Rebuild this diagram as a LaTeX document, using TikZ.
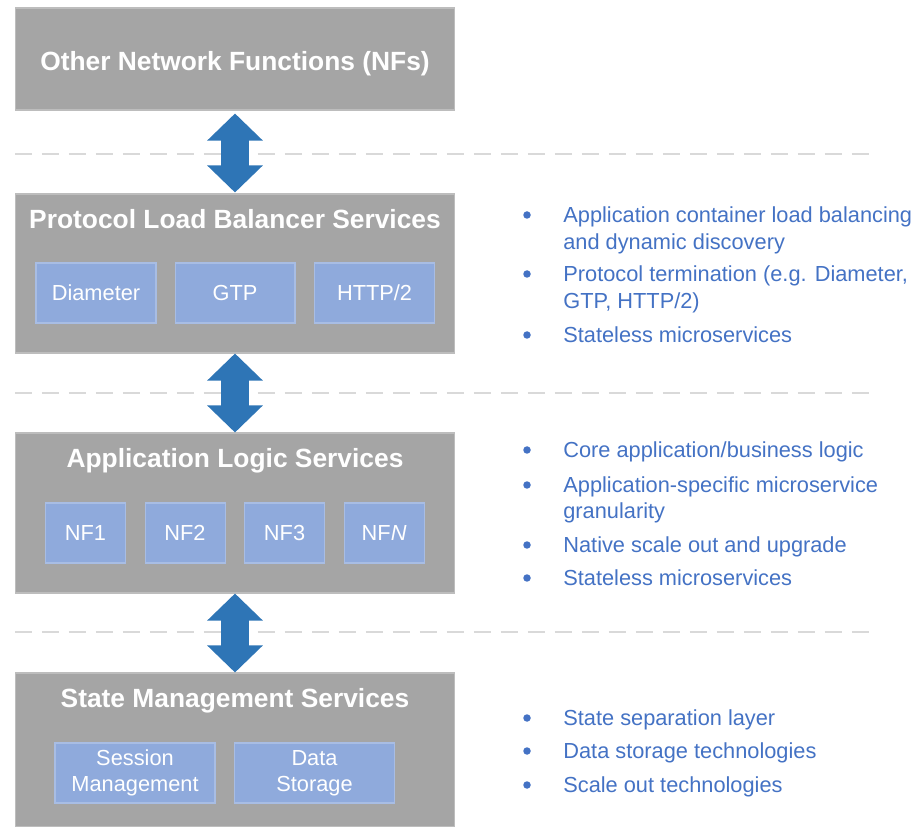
\documentclass[tikz,border=0pt]{standalone}
\usepackage{fontspec}
\setmainfont{Liberation Sans}
\usetikzlibrary{arrows.meta,positioning}
\definecolor{layergray}{HTML}{A5A5A5}
\definecolor{layeredge}{HTML}{BDBDBD}
\definecolor{cellblue}{HTML}{8FAADC}
\definecolor{celledge}{HTML}{A8BDE4}
\definecolor{arrowblue}{HTML}{2E75B6}
\definecolor{textblue}{HTML}{4472C4}
\definecolor{dashgray}{HTML}{D9D9D9}

\tikzset{
    layer/.style={rectangle, fill=layergray, draw=layeredge, line width=0.6pt, minimum width=8.8cm, inner sep=0pt},
    title/.style={text=white, font=\fontsize{15}{18}\selectfont\bfseries, text height=10.7pt, text depth=0pt, inner sep=0pt},
    cell/.style={rectangle, fill=cellblue, draw=celledge, line width=0.6pt, minimum height=1.2cm, text=white, font=\fontsize{12.4}{15}\selectfont, align=center, inner sep=0pt},
    link/.style={arrowblue, line width=0.58cm, {Triangle[width=1.08cm,length=0.54cm]}-{Triangle[width=1.08cm,length=0.54cm]}},
    sep/.style={dashgray, line width=1.5pt, dash pattern=on 0.34cm off 0.2cm},
    point/.style={anchor=west, text=textblue, font=\fontsize{12.4}{15.3}\selectfont, text height=8.8pt, text depth=0pt, inner sep=0pt},
    dot/.style={circle, fill=textblue, inner sep=0pt, minimum size=0.15cm}
}

\begin{document}
\begin{tikzpicture}[x=0.02cm, y=-0.02cm]
    \useasboundingbox (0,0) rectangle (920,827);

    % layer separators
    \foreach \y in {154,393,632}
        \draw[sep] (15,\y) -- (875,\y);

    % layers
    \node[layer, minimum height=2.04cm] (nfs) at (235,59) {};
    \node[title] (nfs-t) at (235,61) {Other Network Functions (NFs)};

    \node[layer, minimum height=3.18cm] (plb) at (235,273.5) {};
    \node[title] (plb-t) at (235,219) {Protocol Load Balancer Services};
    \node[cell, minimum width=2.4cm] (diam) at (96,293) {Diameter};
    \node[cell, minimum width=2.4cm, right=0.36cm of diam] (gtp) {GTP};
    \node[cell, minimum width=2.4cm, right=0.37cm of gtp] (http) {HTTP/2};

    \node[layer, minimum height=3.2cm] (als) at (235,513) {};
    \node[title] (als-t) at (235,458) {Application Logic Services};
    \node[cell, minimum width=1.6cm] (nf1) at (85.5,533) {NF1};
    \node[cell, minimum width=1.6cm, right=0.37cm of nf1] (nf2) {NF2};
    \node[cell, minimum width=1.6cm, right=0.37cm of nf2] (nf3) {NF3};
    \node[cell, minimum width=1.6cm, right=0.37cm of nf3] (nfn) {NF\textit{N}};

    \node[layer, minimum height=3.08cm] (sms) at (235,750) {};
    \node[title] (sms-t) at (235,698) {State Management Services};
    \node[cell, minimum width=3.2cm] (sess) at (135,773) {Session\\Management};
    \node[cell, minimum width=3.2cm, right=0.37cm of sess] (data) {Data\\Storage};

    % links between layers
    \draw[link] ([yshift=-0.06cm]nfs.south) -- ([yshift=0.02cm]plb.north);
    \draw[link] (plb.south) -- (als.north);
    \draw[link] (als.south) -- (sms.north);

    % notes
    \foreach \y/\t [count=\i] in {215/Application container load balancing, 242/and dynamic discovery,
            274/{Protocol termination (e.g. Diameter,}, 301/{GTP, HTTP/2)}, 335/Stateless microservices,
            450/{Core application/business logic}, 485/Application-specific microservice, 511/granularity,
            545/Native scale out and upgrade, 578/Stateless microservices,
            718/State separation layer, 751/Data storage technologies, 785/Scale out technologies}
        \node[point] (note\i) at (563,\y) {\t};
    \foreach \y [count=\i] in {215,274,335,450,485,545,578,718,751,785}
        \node[dot] (dot\i) at (527,\y) {};
\end{tikzpicture}
\end{document}
